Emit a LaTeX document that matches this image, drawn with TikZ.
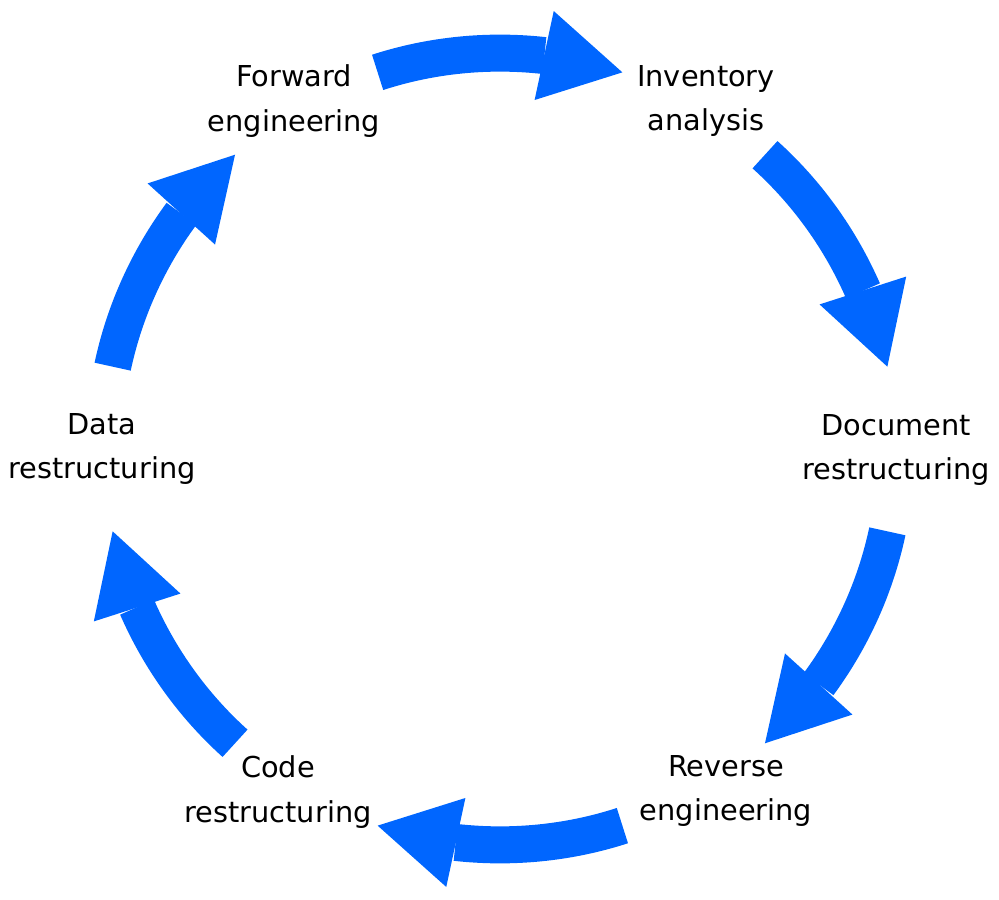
\documentclass[tikz,border=0pt]{standalone}
\usepackage{fontspec}
\setmainfont{DejaVu Sans}
\usepackage{tikz}
\usetikzlibrary{arrows.meta,bending}
\definecolor{cycleblue}{RGB}{0,102,255}

\begin{document}
\begin{tikzpicture}[x=0.5pt, y=0.5pt,
  stage/.style={align=center, inner sep=0pt, font=\fontsize{14.4}{22.25}\selectfont},
  cyclearrow/.style={draw=cycleblue, line width=18.5pt, line cap=butt,
    bend left=18, looseness=0.87,
    -{Triangle[length=40pt, width=45.5pt, line width=0pt, flex]}}]
\useasboundingbox (0,0) rectangle (999,899);

% Stages of the cycle
\node[stage] (fwd) at (294,798) {Forward\\engineering};
\node[stage] (inv) at (706,798) {Inventory\\analysis};
\node[stage] (doc) at (896,449) {Document\\restructuring};
\node[stage] (rev) at (726,108) {Reverse\\engineering};
\node[stage] (code) at (278,107) {Code\\restructuring};
\node[stage] (data) at (102,450) {Data\\restructuring};

% Arrow ends on the ring (centre (500,450), radius 396)
\coordinate (ring) at (500,450);
\coordinate (fwd-out) at ([shift={(ring)}]108:396);
\coordinate (inv-in) at ([shift={(ring)}]72:396);
\coordinate (inv-out) at ([shift={(ring)}]48:396);
\coordinate (doc-in) at ([shift={(ring)}]12:396);
\coordinate (doc-out) at ([shift={(ring)}]-12:396);
\coordinate (rev-in) at ([shift={(ring)}]-48:396);
\coordinate (rev-out) at ([shift={(ring)}]-72:396);
\coordinate (code-in) at ([shift={(ring)}]-108:396);
\coordinate (code-out) at ([shift={(ring)}]-132:396);
\coordinate (data-in) at ([shift={(ring)}]-168:396);
\coordinate (data-out) at ([shift={(ring)}]168:396);
\coordinate (fwd-in) at ([shift={(ring)}]132:396);

% Arrows, clockwise
\draw[cyclearrow] (fwd-out) to (inv-in);
\draw[cyclearrow] (inv-out) to (doc-in);
\draw[cyclearrow] (doc-out) to (rev-in);
\draw[cyclearrow] (rev-out) to (code-in);
\draw[cyclearrow] (code-out) to (data-in);
\draw[cyclearrow] (data-out) to (fwd-in);

\end{tikzpicture}
\end{document}
